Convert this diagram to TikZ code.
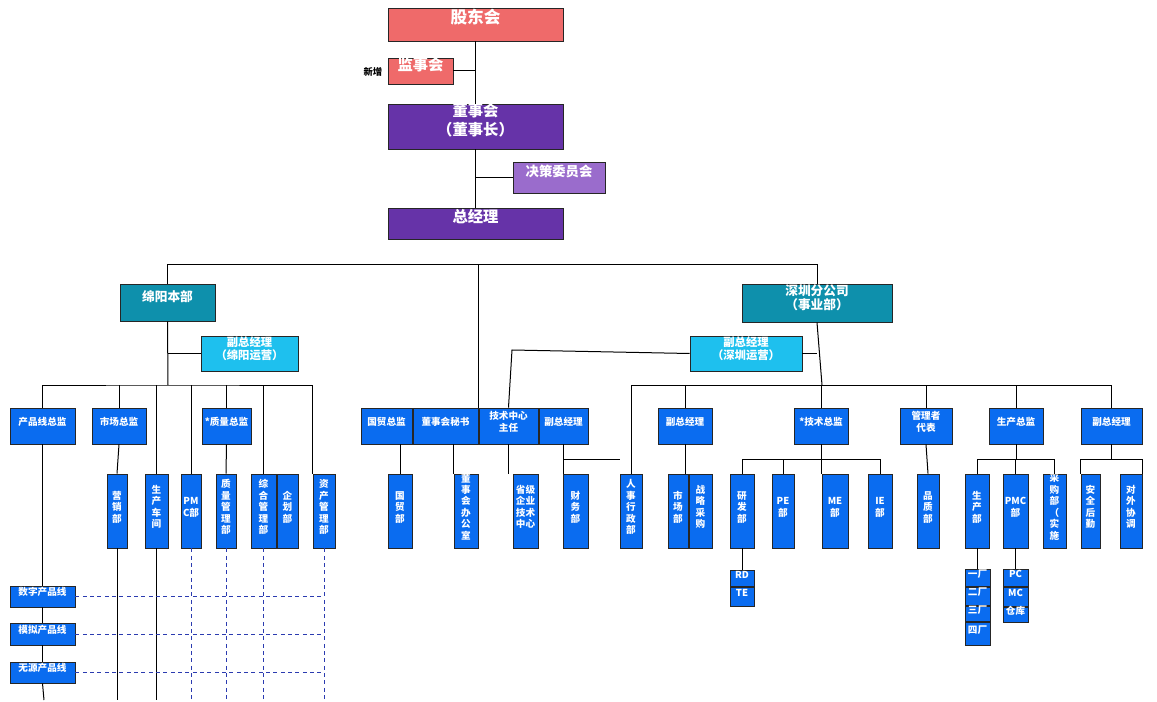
\documentclass[tikz,border=0pt]{standalone}
\usepackage{fontspec}
\setmainfont{Noto Sans CJK SC}
\usetikzlibrary{fit}
\definecolor{bblue}{HTML}{0A6CF0}
\definecolor{salm}{HTML}{EF6A6A}
\definecolor{purp}{HTML}{6633A8}
\definecolor{lpurp}{HTML}{9A6CCC}
\definecolor{teal1}{HTML}{0E90AC}
\definecolor{cyan1}{HTML}{1EC0EE}
\definecolor{dashcol}{HTML}{2B3BB0}
\tikzset{
  bx/.style={draw=black!85,line width=0.7pt,inner sep=0pt,fill=bblue,text=white,font=\bfseries\fontsize{7.2}{8.6}\selectfont,align=center},
  big/.style={bx,font=\bfseries\fontsize{12.5}{15}\selectfont},
  mid/.style={bx,font=\bfseries\fontsize{10}{12}\selectfont},
  ln/.style={line width=0.75pt,black},
  dl/.style={line width=0.7pt,draw=dashcol,dash pattern=on 3pt off 2.5pt},
}
\newcommand{\B}[7][bx]{\node[#1,fit={(#3,#4)(#5,#6)}] (#2) {#7};}
\begin{document}
\begin{tikzpicture}[x=0.75pt,y=-0.75pt]
\useasboundingbox (0,0) rectangle (1157,702);
% top
\B[big,fill=salm]{gd}{388}{8}{563}{41}{股东会}
\B[mid,fill=salm,font=\bfseries\fontsize{11.5}{13}\selectfont]{js}{388}{58}{453}{84}{监事会}
\node[font=\bfseries\fontsize{7}{8}\selectfont,anchor=east] (xz) at (387,72) {新增};
\B[big,fill=purp,font=\bfseries\fontsize{11.5}{14}\selectfont]{ds}{388}{104}{563}{149}{董事会\\（董事长）}
\B[mid,fill=lpurp]{jc}{513}{162}{605}{193}{决策委员会}
\B[big,fill=purp,font=\bfseries\fontsize{11.5}{14}\selectfont]{zj}{388}{208}{563}{239}{总经理}
\coordinate (c0) at (478,265);
\draw[ln] (gd.south) -- (ds.north);
\draw[ln] (js.east) -- (js.east -| gd.south);
\draw[ln] (ds.south) -- (zj.north);
\draw[ln] (jc.west) -- (jc.west -| zj.north);
% mianyang
\B[mid,fill=teal1,font=\bfseries\fontsize{9.5}{11}\selectfont]{my}{120}{284}{215}{321}{绵阳本部}
\B[mid,fill=teal1,font=\bfseries\fontsize{9.5}{11}\selectfont]{sz}{742}{284}{892}{322}{深圳分公司\\（事业部）}
\B[bx,fill=cyan1,font=\bfseries\fontsize{8.5}{10}\selectfont]{fmy}{201}{336}{298}{371}{副总经理\\（绵阳运营）}
\B[bx,fill=cyan1,font=\bfseries\fontsize{8.5}{10}\selectfont]{fsz}{690}{336}{802}{371}{副总经理\\（深圳运营）}
\draw[ln] (my.north) -- (my.north|-c0) -- (sz.north|-c0) -- (sz.north);
% left row
\B{cpz}{10}{408}{75}{444}{产品线总监}
\B{scz}{92}{408}{146}{444}{市场总监}
\B{zlz}{202}{408}{251}{444}{*质量总监}
\B{yx}{107}{474}{127}{548}{营\\销\\部}
\B{sccj}{145}{474}{168}{548}{生\\产\\车\\间}
\B{pmc}{181}{474}{201}{548}{PM\\C部}
\B{zlgl}{216}{474}{236}{548}{质\\量\\管\\理\\部}
\B{zhgl}{251}{474}{276}{548}{综\\合\\管\\理\\部}
\B{qh}{277}{474}{298}{548}{企\\划\\部}
\B{zcgl}{313}{474}{335}{548}{资\\产\\管\\理\\部}
\coordinate (c1) at (168,385);
\draw[ln] (my.south) -- (c1);
\draw[ln] (fmy.west) -- (fmy.west -| my.south);
\draw[ln] (cpz.north) |- (c1) -| (zcgl.north west);
\draw[ln] (scz.north) -- (scz.north|-c1);
\draw[ln] (zlz.north) -- (zlz.north|-c1);
\draw[ln] (sccj.north) -- (sccj.north|-c1);
\draw[ln] (pmc.north) -- (pmc.north|-c1);
\draw[ln] (zhgl.north) -- (zhgl.north|-c1);
\draw[ln] (scz.south) -- (yx.north);
\draw[ln] (zlz.south) -- (zlgl.north);
\B{sz1}{10}{586}{75}{607}{数字产品线}
\B{mn}{10}{623}{75}{645}{模拟产品线}
\B{wy}{10}{662}{75}{683}{无源产品线}
\coordinate (b1) at (44,700);
\draw[ln] (cpz.south) -- (sz1.north);
\draw[ln] (sz1.south) -- (mn.north);
\draw[ln] (mn.south) -- (wy.north);
\draw[ln] (wy.south) -- (b1);
\draw[ln] (yx.south) -- (yx.south|-b1);
\draw[ln] (sccj.south) -- (sccj.south|-b1);
\draw[dl] (pmc.south) -- (pmc.south|-b1);
\draw[dl] (zlgl.south) -- (zlgl.south|-b1);
\draw[dl] (zhgl.south) -- (zhgl.south|-b1);
\draw[dl] (zcgl.south) -- (zcgl.south|-b1);
\foreach \n in {sz1,mn,wy} \draw[dl] (\n.east) -- (\n.east -| zcgl.south);
% center row
\B{gmz}{361}{408}{412}{444}{国贸总监}
\B{dms}{413}{408}{478}{444}{董事会秘书}
\B{jszx}{479}{408}{538}{444}{技术中心\\主任}
\B{fz1}{539}{408}{588}{444}{副总经理}
\B{gmb}{388}{474}{412}{548}{国\\贸\\部}
\B{dsb}{454}{474}{478}{548}{董\\事\\会\\办\\公\\室}
\B{sj}{513}{474}{538}{548}{省级\\企业\\技术\\中心}
\B{cw}{563}{474}{588}{548}{财\\务\\部}
\B{rs}{620}{474}{642}{548}{人\\事\\行\\政\\部}
\draw[ln] (c0) -- (c0|-dms.north);
\draw[ln] (gmz.south-|gmb.north) -- (gmb.north);
\draw[ln] (dms.south-|dsb.north west) -- (dsb.north west);
\draw[ln] (jszx.south) -- (jszx.south|-sj.north);
\draw[ln] (fz1.south) -- (fz1.south|-cw.north);
\coordinate (c2) at (822,385);
\coordinate (c3) at (620,459);
\draw[ln] (fz1.south|-c3) -- (c3);
\draw[ln] (rs.north) -- (rs.north|-c2);
% shenzhen
\draw[ln] (sz.south) -- (c2);
\draw[ln] (fsz.east) -- (fsz.east-|sz.south);
\draw[ln] (fsz.west) -- (512,350) -- (jszx.north);
\B{fz2}{658}{408}{712}{444}{副总经理}
\B{jsz}{794}{408}{848}{444}{*技术总监}
\B{glz}{900}{408}{952}{444}{管理者\\代表}
\B{scz2}{989}{408}{1043}{444}{生产总监}
\B{fz3}{1081}{408}{1142}{444}{副总经理}
\draw[ln] (rs.north|-c2) -- (fz3.north|-c2) -- (fz3.north);
\foreach \n in {fz2,jsz,glz,scz2} \draw[ln] (\n.north) -- (\n.north|-c2);
\B{scb}{668}{474}{688}{548}{市\\场\\部}
\B{zlcg}{689}{474}{712}{548}{战\\略\\采\\购}
\draw[ln] (fz2.south) -- (fz2.south|-scb.north);
\B{yfb}{730}{474}{754}{548}{研\\发\\部}
\B{pe}{772}{474}{794}{548}{PE\\部}
\B{me}{822}{474}{848}{548}{ME\\部}
\B{ie}{868}{474}{892}{548}{IE\\部}
\draw[ln] (jsz.south) -- (jsz.south|-c3);
\draw[ln] (yfb.north) |- (c3-|ie.north) -- (ie.north);
\draw[ln] (pe.north) -- (pe.north|-c3);
\draw[ln] (me.north west) -- (me.north west|-c3);
\B{pz}{917}{474}{939}{548}{品\\质\\部}
\draw[ln] (glz.south) -- (pz.north);
\B{sc3}{965}{474}{989}{548}{生\\产\\部}
\B{pmc2}{1003}{474}{1028}{548}{PMC\\部}
\B{cg}{1043}{474}{1066}{548}{采\\购\\部\\（\\实\\施}
\draw[ln] (scz2.south) -- (scz2.south|-c3);
\draw[ln] (sc3.north) |- (c3-|cg.north) -- (cg.north);
\draw[ln] (pmc2.north) -- (pmc2.north|-c3);
\B{aq}{1081}{474}{1100}{548}{安\\全\\后\\勤}
\B{dw}{1120}{474}{1142}{548}{对\\外\\协\\调}
\draw[ln] (fz3.south) -- (fz3.south|-c3);
\draw[ln] (aq.north west) |- (c3-|dw.north east) -- (dw.north east);
\B{rd}{730}{570}{754}{586}{RD}
\B{te}{730}{587}{754}{606}{TE}
\draw[ln] (yfb.south) -- (rd.north);
\B{c1f}{965}{569}{990}{586}{一厂}
\B{c2f}{965}{587}{990}{605}{二厂}
\B{c3f}{965}{606}{990}{621}{三厂}
\B{c4f}{965}{622}{990}{645}{四厂}
\draw[ln] (sc3.south) -- (sc3.south|-c1f.north);
\B{pc}{1003}{569}{1028}{586}{PC}
\B{mc}{1003}{587}{1028}{606}{MC}
\B{ck}{1003}{607}{1028}{622}{仓库}
\draw[ln] (pmc2.south) -- (pc.north);
\end{tikzpicture}
\end{document}
